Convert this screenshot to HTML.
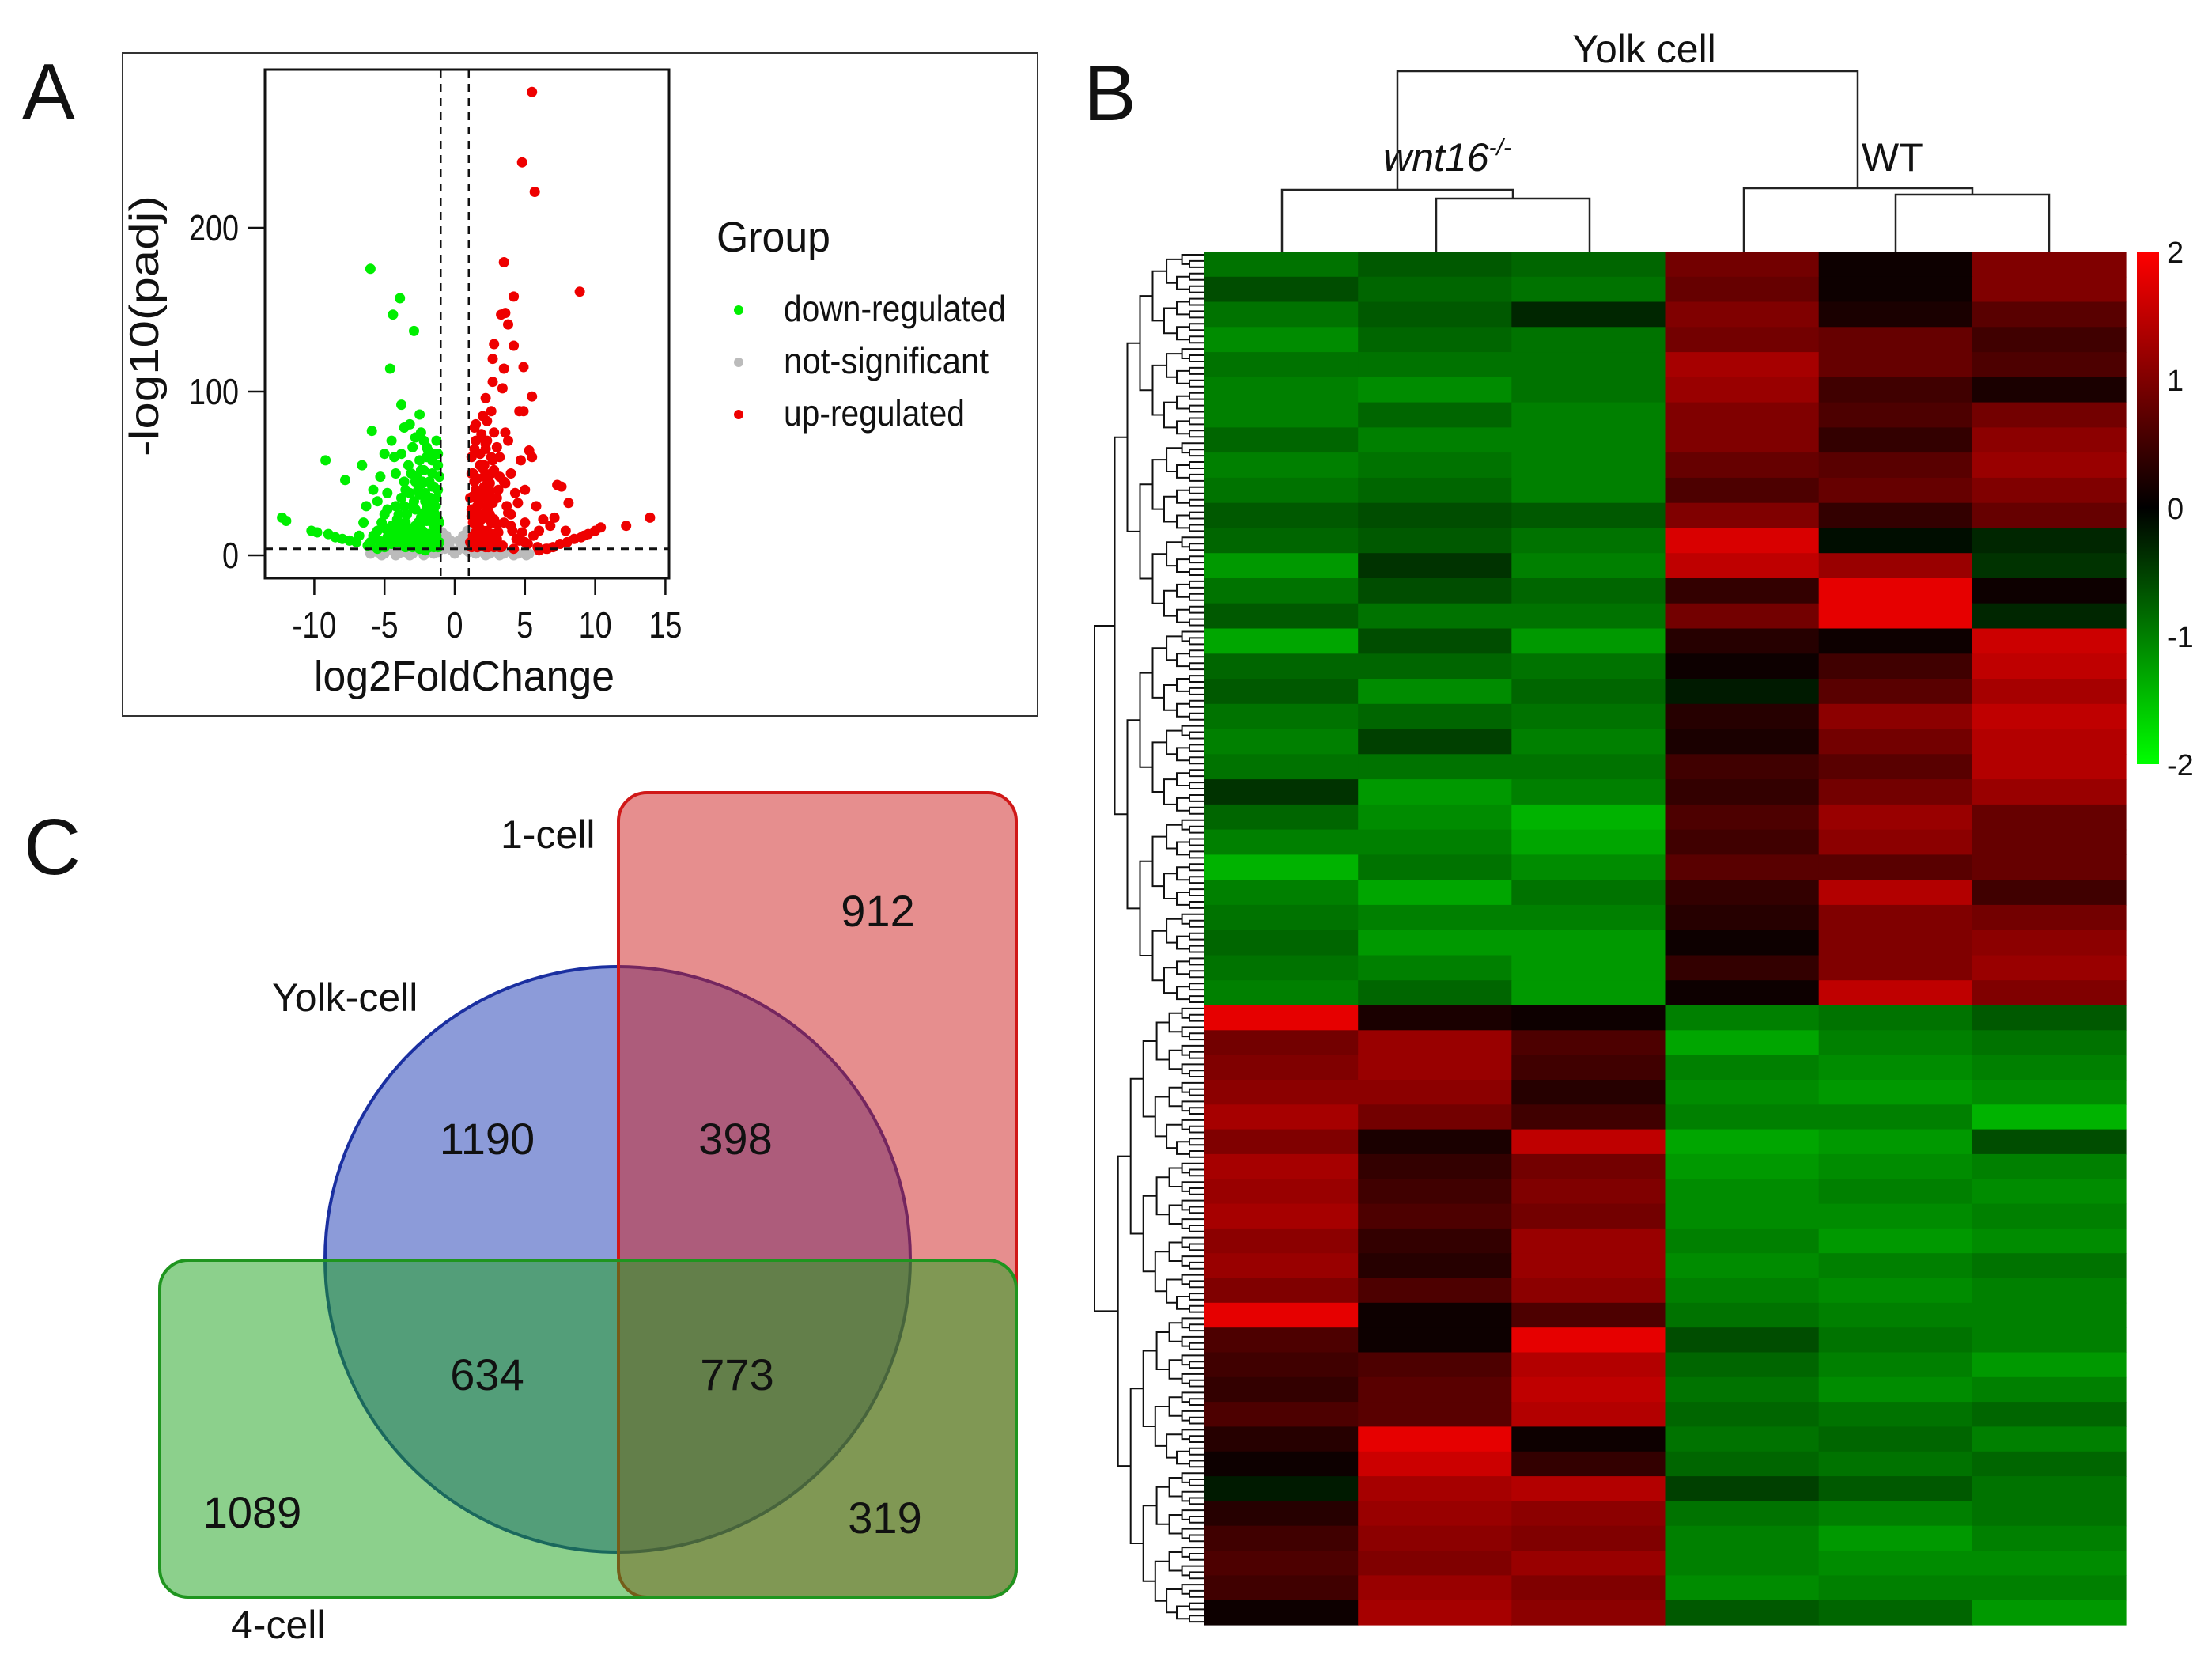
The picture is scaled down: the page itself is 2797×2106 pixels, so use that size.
<!DOCTYPE html>
<html><head><meta charset="utf-8"><style>
html,body{margin:0;padding:0;background:#fff}
svg{display:block}
text{font-family:"Liberation Sans",sans-serif;fill:#111}
.nar{font-family:"Liberation Sans Narrow","Liberation Sans",sans-serif}
</style></head><body>
<svg id="fig" width="2797" height="2106" viewBox="0 0 2797 2106" xmlns="http://www.w3.org/2000/svg">
<g id="panelA">
  <text x="28" y="150" font-size="100">A</text>
  <rect x="155" y="67" width="1157" height="838" fill="none" stroke="#333" stroke-width="2"/>
  <rect x="335" y="88" width="511" height="643" fill="none" stroke="#111" stroke-width="3"/>
  <g id="volcPts"></g>
  <g id="volcAxes"></g>
  <text x="200" y="412" font-size="52" text-anchor="middle" transform="rotate(-90 200 412)" textLength="330" lengthAdjust="spacingAndGlyphs">-log10(padj)</text>
  <text class="nar" x="587" y="873" font-size="54" text-anchor="middle" textLength="380" lengthAdjust="spacingAndGlyphs">log2FoldChange</text>
  <g>
    <text class="nar" x="906" y="318" font-size="54" textLength="144" lengthAdjust="spacingAndGlyphs">Group</text>
    <circle cx="934" cy="392" r="6" fill="#00ee00"/>
    <text class="nar" x="991" y="406" font-size="46" textLength="281" lengthAdjust="spacingAndGlyphs">down-regulated</text>
    <circle cx="934" cy="458" r="6" fill="#bbbbbb"/>
    <text class="nar" x="991" y="472" font-size="46" textLength="259" lengthAdjust="spacingAndGlyphs">not-significant</text>
    <circle cx="934" cy="524" r="6" fill="#ee0000"/>
    <text class="nar" x="991" y="538" font-size="46" textLength="229" lengthAdjust="spacingAndGlyphs">up-regulated</text>
  </g>
</g>
<g id="panelB">
  <text x="1370" y="152" font-size="100">B</text>
  <text x="2079" y="79" font-size="50" text-anchor="middle">Yolk cell</text>
  <text x="1830" y="216" font-size="50" text-anchor="middle" font-style="italic">wnt16<tspan font-size="30" dy="-20">-/-</tspan></text>
  <text x="2354" y="216" font-size="50">WT</text>
  <g id="colDendro" fill="none" stroke="#222" stroke-width="2.5">
    <path d="M1767 240 V90 H2349 V238"/>
    <path d="M1621 318 V240 H1913 V251"/>
    <path d="M1816 318 V251 H2010 V318"/>
    <path d="M2205 318 V238 H2494 V246"/>
    <path d="M2397 318 V246 H2591 V318"/>
  </g>
  <g id="heat"></g>
  <g id="rowDendro" fill="none" stroke="#111" stroke-width="2"></g>
  <defs><linearGradient id="cbg" x1="0" y1="0" x2="0" y2="1">
    <stop offset="0" stop-color="#ff0000"/><stop offset="0.5" stop-color="#000000"/><stop offset="1" stop-color="#00ff00"/></linearGradient></defs>
  <rect x="2702" y="318" width="28" height="648" fill="url(#cbg)"/>
  <g id="cbLabels"></g>
</g>
<g id="panelC">
  <text x="30" y="1105" font-size="100">C</text>
  <circle cx="781" cy="1592" r="370" fill="rgba(25,55,180,0.5)" stroke="#1a2fa0" stroke-width="4"/>
  <rect x="782" y="1002" width="503" height="1017" rx="36" fill="rgba(205,30,30,0.5)" stroke="#d01818" stroke-width="4"/>
  <rect x="202" y="1593" width="1083" height="426" rx="36" fill="rgba(25,161,25,0.5)" stroke="#1f951f" stroke-width="4"/>
  <text x="633" y="1072" font-size="50">1-cell</text>
  <text x="344" y="1278" font-size="50">Yolk-cell</text>
  <text x="292" y="2071" font-size="50">4-cell</text>
  <g id="vennNums" font-size="56" text-anchor="middle"></g>
</g>
</svg>
<script>
// ---------- Volcano data (log2FC, -log10 padj) ----------
const downX = [-12.3,-12,-10.2,-9.8,-9.2,-9,-8.5,-8,-7.8,-7.5,-7,-6.6,-6.5,-6.3,-6,-6,-5.9,-5.8,-5.5,-5.5,-5.3,-5,-5,-5,-4.8,-4.6,-4.5,-4.5,-4.4,-4.2,-4.2,-4,-3.9,-3.8,-3.8,-3.6,-3.5,-3.5,-3.3,-3.2,-3,-3,-3,-2.9,-2.8,-2.7,-2.5,-2.5,-2.4,-2.2,-2.1,-2,-2,-1.8,-1.7,-1.6,-1.5,-1.4,-1.3,-1.2,-1.1,-4.5,-5.5,-3.5,-2.5,-6.8,-6.2,-4,-4.8,-3.8,-2.8,-2.2,-1.9,-3.3,-1.5,-2.6,-3.6,-4.3,-5.2,-5.8,-1.2,-1.9,-2.4,-3.1,-1.4,-1.7,-2.3,-2.9,-3.4,-1.3,-1.6,-2.0,-2.7,-3.2,-3.9,-4.6,-1.1,-1.5,-2.1,
 -1.2,-1.4,-1.6,-1.8,-2.0,-2.2,-2.4,-2.6,-2.8,-3.0,-1.3,-1.5,-1.7,-1.9,-2.1,-2.3,-2.5,-2.7,-2.9,-3.1,-1.2,-1.4,-1.6,-1.8,-2.0,-2.2,-2.4,-2.6,-2.8,-3.0,-3.3,-3.6,-3.9,-4.2,-4.5,-4.8,-5.1,-5.4,-3.4,-3.7,-4.0,-4.3,-4.6,-4.9,-1.1,-1.3,-1.5,-1.7,-1.9,-2.1,-2.3,-2.5,-1.2,-1.6,-2.0,-2.4,-2.8,-3.2,-3.6,-4.1];
const downY = [23,21,15,14,58,13,11,10,46,9,8,55,20,30,175,8,76,40,33,15,48,62,25,5,38,114,70,18,147,50,30,8,157,92,62,78,40,20,55,80,66,30,10,137,72,48,86,58,20,70,38,60,10,45,25,50,5,30,15,40,8,10,4,5,4,12,6,25,28,35,28,52,22,12,18,40,45,60,20,12,55,64,75,50,62,35,45,33,25,70,42,30,15,8,18,12,20,28,3,
 5,6,7,5,6,8,5,7,6,5,12,14,10,13,11,15,12,10,14,11,22,25,20,24,21,26,23,20,18,16,8,10,12,9,7,11,6,9,15,17,14,18,13,16,48,35,42,30,28,33,44,37,62,58,66,52,45,38,30,22];
const nsX = [-6,-5.5,-5,-4.5,-4,-3.5,-3,-2.5,-2,-1.5,-1,-0.8,-0.6,-0.4,-0.2,0,0.2,0.4,0.6,0.8,1,1.5,2,2.5,3,3.5,4,4.5,5,5.3,-0.9,0.9,-1.2,1.2,-0.3,0.3,-0.7,0.7,-5.2,-4.2,-3.2,-2.2,2.2,3.2,4.2,5.1];
const nsY = [1,2,1,3,1,2,1,3,2,1,4,8,12,6,3,1,3,7,12,8,2,1,2,1,2,1,2,1,2,1,14,15,2,3,9,9,4,4,0,0,0,0,0,0,0,0];
const upX = [5.5,4.8,5.7,3.5,8.9,4.2,3.3,3.6,3.8,2.8,4.2,2.7,3.5,4.9,2.7,3.4,2.2,5.5,4.6,4.9,13.9,12.2,10.4,10,9.5,9,8.5,8,7.5,7,6.5,6,8.1,7.3,7.6,5.3,4.7,5.5,7.1,6.3,5.8,6,5,5,4.5,4.5,4,4,3.8,3.5,3.5,3.2,3,3,2.8,2.6,2.5,2.3,2.2,2,2,1.8,1.6,1.5,1.4,1.3,1.2,1.1,1.1,1.6,2.4,3.3,4.2,5,1.4,2,2.6,1.9,3.1,3.7,4.3,1.7,2.3,2.9,1.3,2.1,4.8,5.6,6.8,7.9,9.2,3.6,1.2,1.5,1.8,2.1,2.4,2.7,1.3,1.7,2.5,3.0,
 1.2,1.4,1.6,1.8,2.0,2.2,2.4,2.6,2.8,3.0,3.2,3.4,1.3,1.5,1.7,1.9,2.1,2.3,2.5,2.7,2.9,3.1,1.2,1.4,1.6,1.8,2.0,2.2,2.4,2.6,2.8,3.0,1.3,1.5,1.7,1.9,2.1,2.3,2.5,2.7,1.2,1.6,2.0,2.4,2.8,3.2,3.6,4.0,4.4,3.8,4.1,4.6,5.2,5.9,6.6,1.4,1.8,2.2,2.6,1.5,1.9,2.3];
const upY = [283,240,222,179,161,158,147,148,141,129,128,120,114,115,106,102,96,97,88,88,23,18,17,15,13,11,10,8,7,5,4,3,32,43,42,64,58,60,23,22,30,15,40,20,32,10,50,25,70,45,20,60,35,10,75,50,25,82,65,40,15,55,30,70,45,20,60,8,35,5,5,5,4,8,78,85,88,72,40,30,38,18,30,20,50,55,14,12,18,15,12,75,28,40,62,48,35,58,10,12,44,66,
 5,6,5,7,6,5,7,6,5,6,5,6,12,14,11,13,12,15,11,13,12,14,24,22,26,21,25,23,27,20,22,19,36,40,33,38,42,35,39,32,50,47,53,46,52,48,44,18,10,26,15,9,7,5,4,65,62,68,60,80,74,70];
const xTicks = [-10,-5,0,5,10,15];
const yTicks = [0,100,200];

// ---------- Heatmap data (z-scores) ----------
const sampleNames = ["wnt16-1","wnt16-2","wnt16-3","WT-1","WT-2","WT-3"];
const topCluster = [
[-0.9,-0.7,-0.8,0.9,0.1,1.0],[-0.6,-0.8,-0.9,0.8,0.1,1.0],[-0.9,-0.7,-0.3,1.0,0.2,0.7],[-1.1,-0.8,-0.9,0.9,0.8,0.5],
[-0.9,-0.9,-0.9,1.3,0.8,0.6],[-1.0,-1.1,-0.9,1.2,0.5,0.2],[-1.0,-0.8,-1.0,1.0,0.6,0.9],[-0.8,-1.0,-1.0,1.0,0.4,1.1],
[-1.0,-0.9,-1.0,0.8,0.7,1.2],[-0.9,-0.8,-1.0,0.6,0.8,1.0],[-0.7,-0.6,-0.7,1.0,0.4,0.8],[-0.8,-0.7,-0.9,1.7,-0.1,-0.3],
[-1.2,-0.4,-1.0,1.5,1.2,-0.4],[-0.9,-0.6,-0.8,0.4,1.8,0.1],[-0.7,-0.9,-0.9,0.9,1.8,-0.3],[-1.3,-0.6,-1.2,0.3,0.1,1.6],
[-0.8,-0.8,-0.9,0.1,0.5,1.5],[-0.7,-1.1,-0.8,-0.2,0.7,1.3],[-0.9,-0.8,-0.9,0.3,1.1,1.5],[-1.0,-0.5,-1.0,0.2,0.9,1.4],
[-0.9,-0.9,-0.9,0.5,0.7,1.4],[-0.4,-1.2,-1.0,0.4,0.9,1.2],[-0.8,-1.1,-1.4,0.6,1.2,0.8],[-1.0,-1.0,-1.3,0.5,1.1,0.8],
[-1.4,-0.9,-1.1,0.7,0.7,0.8],[-1.0,-1.3,-0.9,0.4,1.4,0.5],[-0.9,-1.0,-1.0,0.3,1.0,0.9],[-0.8,-1.2,-1.2,0.1,1.0,1.1],
[-0.9,-1.0,-1.2,0.4,1.0,1.2],[-1.0,-0.8,-1.2,0.1,1.5,1.0]];
const bottomCluster = [
[1.8,0.2,0.1,-1.0,-0.9,-0.7],[0.9,1.2,0.6,-1.3,-1.0,-0.9],[1.0,1.2,0.5,-1.0,-1.1,-1.0],[1.1,1.1,0.3,-1.1,-1.2,-1.1],
[1.3,0.9,0.5,-1.0,-1.0,-1.4],[1.0,0.2,1.5,-1.3,-1.2,-0.6],[1.3,0.4,0.9,-1.2,-1.1,-1.0],[1.2,0.5,1.0,-1.1,-1.0,-1.1],
[1.3,0.6,0.9,-1.1,-1.1,-1.0],[1.1,0.4,1.2,-1.0,-1.2,-1.1],[1.2,0.3,1.2,-1.1,-1.0,-0.9],[1.0,0.6,1.1,-1.0,-1.1,-1.0],
[1.8,0.1,0.6,-0.9,-1.0,-1.0],[0.6,0.1,1.8,-0.6,-0.9,-1.0],[0.5,0.6,1.4,-0.8,-1.0,-1.2],[0.4,0.7,1.5,-0.9,-1.1,-1.0],
[0.6,0.7,1.4,-0.8,-0.9,-0.8],[0.3,1.8,0.1,-0.9,-0.8,-1.0],[0.1,1.6,0.4,-0.8,-0.9,-0.8],[-0.2,1.3,1.4,-0.5,-0.7,-0.9],
[0.3,1.2,1.1,-0.9,-1.0,-0.9],[0.5,1.1,1.0,-1.0,-1.2,-1.0],[0.6,1.0,1.2,-1.0,-1.1,-1.1],[0.5,1.2,1.0,-1.1,-1.0,-1.0],
[0.1,1.3,1.1,-0.7,-0.8,-1.2]];
const colorTicks = [2,1,0,-1,-2];

// ---------- Venn data ----------
const vennLabels = ["912","1190","398","634","773","1089","319"];
const vennRegions = ["1-cell only","Yolk only","Yolk+1-cell","Yolk+4-cell","all three","4-cell only","1-cell+4-cell"];

const NS="http://www.w3.org/2000/svg";
function mk(tag, attrs, parent){const e=document.createElementNS(NS,tag);for(const k in attrs)e.setAttribute(k,attrs[k]);parent.appendChild(e);return e;}

const vx = v => 575 + 17.76*v;
const vy = v => 702 - 2.07*v;
const pts = document.getElementById('volcPts');
function drawPts(xs, ys, col, nm){
  for(let i=0;i<xs.length;i++){
    const c = mk('circle',{cx:vx(xs[i]).toFixed(1),cy:vy(ys[i]).toFixed(1),r:6.5,fill:col},pts);
    
    
  }
}
drawPts(nsX, nsY, '#bbbbbb', 'point-not-significant');
drawPts(downX, downY, '#00ee00', 'point-down-regulated');
drawPts(upX, upY, '#ee0000', 'point-up-regulated');
const ax = document.getElementById('volcAxes');
mk('line',{x1:335,x2:846,y1:vy(4),y2:vy(4),stroke:'#111','stroke-width':3,'stroke-dasharray':'10 8'},ax);
mk('line',{x1:vx(-1),x2:vx(-1),y1:88,y2:731,stroke:'#111','stroke-width':2.5,'stroke-dasharray':'10 8'},ax);
mk('line',{x1:vx(1),x2:vx(1),y1:88,y2:731,stroke:'#111','stroke-width':2.5,'stroke-dasharray':'10 8'},ax);
mk('line',{x1:vx(-10),x2:vx(15),y1:731,y2:731,stroke:'#111','stroke-width':2.5},ax);
mk('line',{x1:335,x2:335,y1:vy(0),y2:vy(200),stroke:'#111','stroke-width':2.5},ax);
function tw(s){let w=0;for(const ch of String(s))w+=(ch==='-')?14:21;return w;}
xTicks.forEach(t=>{
  mk('line',{x1:vx(t),x2:vx(t),y1:731,y2:752,stroke:'#111','stroke-width':2.5},ax);
  const tx = mk('text',{x:vx(t),y:806,'font-size':46,'text-anchor':'middle','class':'nar',textLength:tw(t),lengthAdjust:'spacingAndGlyphs'},ax);
  tx.textContent = t;
  
  
});
yTicks.forEach(t=>{
  mk('line',{x1:314,x2:335,y1:vy(t),y2:vy(t),stroke:'#111','stroke-width':2.5},ax);
  const tx = mk('text',{x:302,y:vy(t)+16,'font-size':46,'text-anchor':'end','class':'nar',textLength:tw(t),lengthAdjust:'spacingAndGlyphs'},ax);
  tx.textContent = t;
  
  
});

// Heatmap
const hx0=1523, hx1=2688, hTop=318, hSplit=1271, hBot=2054;
const colW=(hx1-hx0)/sampleNames.length;
function colr(v){v=Math.max(-2,Math.min(2,v));
  if(v>=0) return 'rgb('+Math.round(v*127.5)+',0,0)';
  return 'rgb(0,'+Math.round(-v*127.5)+',0)';}
const heat=document.getElementById('heat');
const leafY=[];
function drawBlock(rows,y0,y1,nm){
  const rh=(y1-y0)/rows.length;
  rows.forEach((r,i)=>{
    leafY.push(y0+(i+0.5)*rh);
    r.forEach((v,j)=>{
      const c=mk('rect',{x:(hx0+j*colW).toFixed(1),y:(y0+i*rh).toFixed(1),width:(colW+0.6).toFixed(1),height:(rh+0.6).toFixed(1),fill:colr(v)},heat);
      
      
    });
  });
}
drawBlock(topCluster,hTop,hSplit,'heatmap-cell-top');
drawBlock(bottomCluster,hSplit,hBot,'heatmap-cell-bottom');

// Row dendrogram
const rd=document.getElementById('rowDendro');
const sub=[];
leafY.forEach((y,i)=>{const rh=(i<topCluster.length)?(hSplit-hTop)/topCluster.length:(hBot-hSplit)/bottomCluster.length;
  for(let k=0;k<4;k++) sub.push(y-rh/2+(k+0.5)*rh/4);});
let dpath='';
function build(lo,hi){
  if(hi-lo===1){return {x:hx0,y:sub[lo]};}
  const mid=(lo+hi)>>1;
  const a=build(lo,mid), b=build(mid,hi);
  const n=hi-lo;
  const x=hx0-(3+16*Math.log2(n));
  dpath+='M'+a.x.toFixed(1)+' '+a.y.toFixed(1)+'H'+x.toFixed(1)+'V'+b.y.toFixed(1)+'H'+b.x.toFixed(1);
  return {x:x,y:(a.y+b.y)/2};
}
const nTop=topCluster.length*4;
const A1=build(0,nTop), B1=build(nTop,sub.length);
const rx=1384;
dpath+='M'+A1.x.toFixed(1)+' '+A1.y.toFixed(1)+'H'+rx+'V'+B1.y.toFixed(1)+'H'+B1.x.toFixed(1);
mk('path',{d:dpath},rd);

const cbl=document.getElementById('cbLabels');
colorTicks.forEach(t=>{
  const y=318+(2-t)/4*648;
  const tx=mk('text',{x:2740,y:y+14,'font-size':38,'class':'nar'},cbl);
  tx.textContent=t;
  
  
});

// Venn counts
const vennPos=[[1110,1171],[616,1459],[930,1459],[616,1757],[932,1757],[319,1931],[1119,1938]];
const vn=document.getElementById('vennNums');
vennLabels.forEach((s,i)=>{
  const tx=mk('text',{x:vennPos[i][0],y:vennPos[i][1]},vn);
  tx.textContent=s;
  
  
});
</script>
</body></html>
